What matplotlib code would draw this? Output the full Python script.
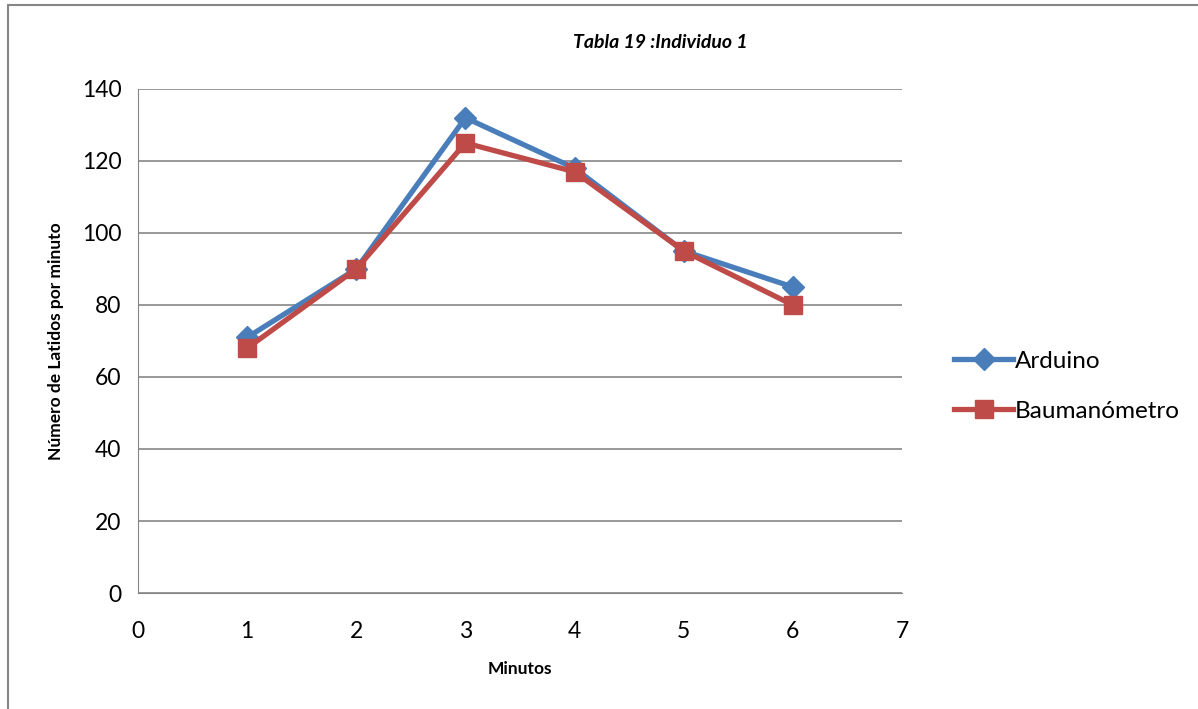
import matplotlib.pyplot as plt
from matplotlib.patches import Rectangle

# Data
minutos = [1, 2, 3, 4, 5, 6]
arduino = [71, 90, 132, 118, 95, 85]
baumanometro = [68, 90, 125, 117, 95, 80]

plt.rcParams['font.family'] = ['Lato', 'DejaVu Sans']

fig = plt.figure(figsize=(11.98, 7.09), dpi=100)
ax = fig.add_axes([0.1152, 0.1636, 0.6377, 0.7109])

# outer chart border (top and left visible)
fig.patches.append(Rectangle((8 / 1198, -0.1), 1.2, 1.1 - 5 / 709, transform=fig.transFigure,
                             fill=False, edgecolor='#868686', linewidth=1.5))

ax.plot(minutos, arduino, color='#4a7ebb', linewidth=3.8, marker='D', markersize=11,
        label='Arduino', zorder=3)
ax.plot(minutos, baumanometro, color='#be4b48', linewidth=3.8, marker='s', markersize=13,
        label='Baumanómetro', zorder=4)

ax.set_xlim(0, 7)
ax.set_ylim(0, 140)
ax.set_xticks(range(0, 8))
ax.set_yticks(range(0, 141, 20))
ax.tick_params(axis='x', labelsize=16.5, length=0, pad=20)
ax.tick_params(axis='y', labelsize=16.5, length=0, pad=12)
ax.grid(axis='y', color='#868686', linewidth=1.2)
ax.set_axisbelow(True)
for side in ['top', 'right']:
    ax.spines[side].set_visible(False)
ax.spines['left'].set_color('#868686')
ax.spines['bottom'].set_color('#868686')

ax.set_xlabel('Minutos', fontsize=12.5, fontweight='bold', labelpad=14)
ax.set_ylabel('Número de Latidos por minuto', fontsize=12.5, fontweight='bold', labelpad=13)
fig.text(0.551, 0.94, 'Tabla 19 :Individuo 1', fontsize=14, fontweight='bold', style='italic',
         ha='center', va='center')

ax.legend(loc='center left', bbox_to_anchor=(1.04, 0.41), frameon=False, fontsize=17.5,
          handlelength=2.4, labelspacing=1.2, handletextpad=0.1)

fig.savefig('out.png', dpi=100)
